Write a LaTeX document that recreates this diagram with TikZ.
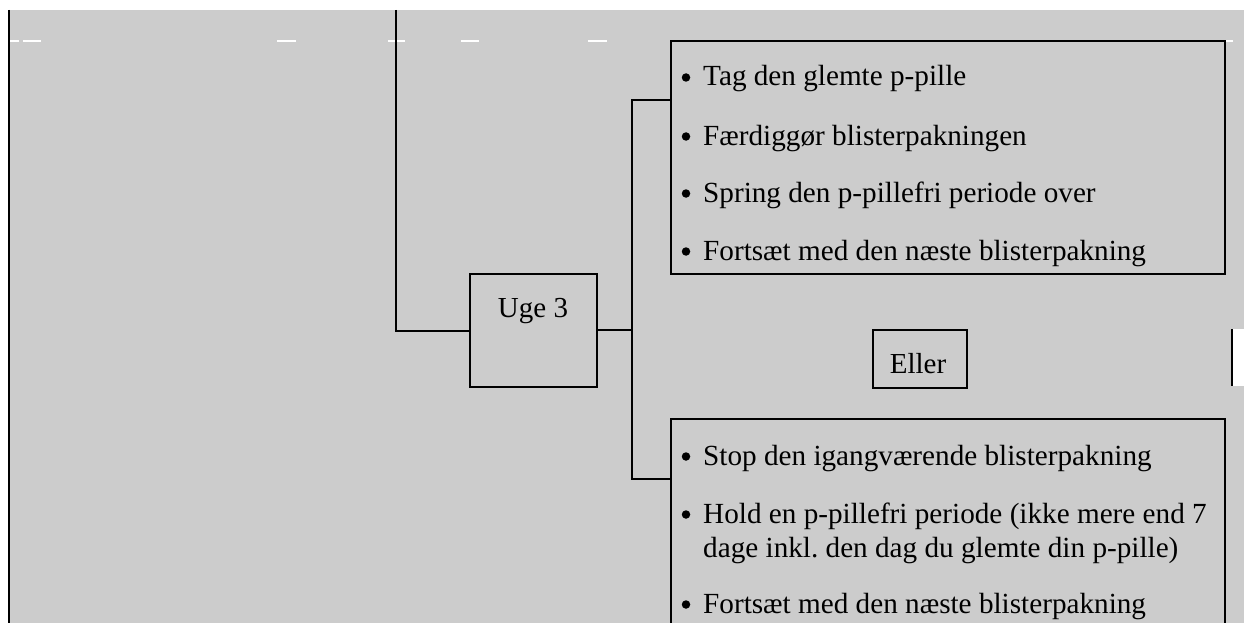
\documentclass[tikz,border=0pt]{standalone}
\usepackage{fontspec}
\setmainfont{Liberation Serif}
\frenchspacing
\definecolor{bg}{HTML}{CCCCCC}
\tikzset{
  ln/.style={line width=2pt, black},
  boxn/.style={draw, line width=2pt, fill=bg, inner sep=0pt, anchor=north west},
  txt/.style={anchor=base west, inner sep=0pt, font=\fontsize{29.2}{34}\selectfont},
  ctxt/.style={anchor=base, inner sep=0pt, font=\fontsize{29}{34}\selectfont},
  bull/.style={circle, fill=black, inner sep=0pt, minimum size=8.5pt},
  wdash/.style={white, line width=1.2pt},
}
\begin{document}
\begin{tikzpicture}[x=1pt,y=-1pt]
\useasboundingbox (0,0) rectangle (1244,623);
\fill[white] (0,0) rectangle (1244,623);
\fill[bg] (10,10) rectangle (1244,623);
% white dashes
\foreach \a/\b in {10/19,23/41,277/296,388/405,461/479,588/607,1224/1233}
  \draw[wdash] (\a,41) -- (\b,41);
% left border line
\coordinate (lt) at (9,10);
\coordinate (lb) at (9,623);
\draw[ln] (lt) -- (lb);
% right white patch
\fill[white] (1233,329) rectangle (1244,386);
\coordinate (rt) at (1232,329);
\coordinate (rb) at (1232,386);
\draw[ln] (rt) -- (rb);
% boxes
\node[boxn, minimum width=127pt, minimum height=113pt] (uge) at (469,273) {};
\node[ctxt] (ugetxt) at (533,317) {Uge 3};
\node[boxn, minimum width=554pt, minimum height=233pt] (topbox) at (670,40) {};
\node[boxn, minimum width=554pt, minimum height=230pt] (botbox) at (670,418) {};
\node[boxn, minimum width=94pt, minimum height=58pt] (eller) at (872,329) {};
\node[ctxt] (ellertxt) at (918,373) {Eller};
% texts top
\foreach \y/\n in {86/1,145/2,202/3,260/4,465/5,523/6,613/7}
  \node[bull] (bu\n) at (686,\y-8.5) {};
\node[txt] (t1) at (703,86) {Tag den glemte p-pille};
\node[txt] (t2) at (703,145) {Færdiggør blisterpakningen};
\node[txt] (t3) at (703,202) {Spring den p-pillefri periode over};
\node[txt] (t4) at (703,260) {Fortsæt med den næste blisterpakning};
% texts bottom
\node[txt] (b1) at (703,465) {Stop den igangværende blisterpakning};
\node[txt] (b2) at (703,523) {Hold en p-pillefri periode (ikke mere end 7};
\node[txt] (b3) at (703,557) {dage inkl. den dag du glemte din p-pille)};
\node[txt] (b4) at (703,613) {Fortsæt med den næste blisterpakning};
% connectors
\coordinate (top) at (396,10);
\draw[ln] (top) |- (uge.west);
\coordinate (j) at (632,330);
\coordinate (ta) at (670,100);
\coordinate (ba) at (670,479);
\draw[ln] (uge.east |- j) -- (j);
\draw[ln] (j) |- (ta);
\draw[ln] (j) |- (ba);
\end{tikzpicture}
\end{document}
